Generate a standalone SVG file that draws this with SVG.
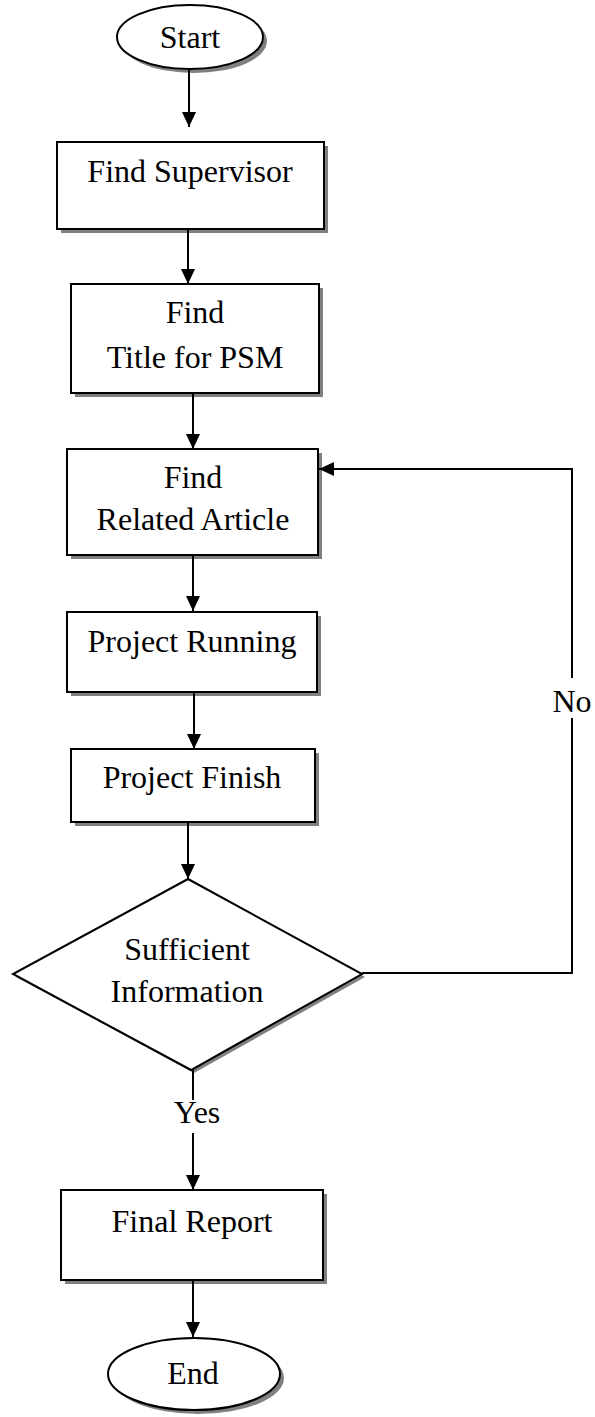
<svg xmlns="http://www.w3.org/2000/svg" width="595" height="1417" viewBox="0 0 595 1417">
<style>
.shape{fill:#fff;stroke:#000;stroke-width:2}
.shadow{fill:#808080;stroke:none}
.lbl{font-family:"Liberation Serif","Times New Roman",serif;font-size:32px;fill:#000;text-anchor:middle}
.conn{fill:none;stroke:#000;stroke-width:2}
</style>
<defs>
<marker id="arrow" markerUnits="userSpaceOnUse" markerWidth="16" markerHeight="14" refX="15" refY="7" orient="auto">
<path d="M0,0 L15,7 L0,14 z" fill="#000"/>
</marker>
</defs>
<rect width="595" height="1417" fill="#fff"/>
<g id="start">
<ellipse class="shadow" cx="194" cy="41" rx="73" ry="32"/>
<ellipse class="shape" cx="190" cy="37" rx="73" ry="32"/>
<text class="lbl" x="190" y="48">Start</text>
</g>
<g id="find-supervisor">
<rect class="shadow" x="61" y="146" width="267" height="87"/>
<rect class="shape" x="57" y="142" width="267" height="87"/>
<text class="lbl" x="190" y="182">Find Supervisor</text>
</g>
<g id="find-title">
<rect class="shadow" x="75" y="288" width="248" height="109"/>
<rect class="shape" x="71" y="284" width="248" height="109"/>
<text class="lbl" x="195" y="323">Find</text>
<text class="lbl" x="195" y="368">Title for PSM</text>
</g>
<g id="find-related">
<rect class="shadow" x="71" y="453" width="251" height="106"/>
<rect class="shape" x="67" y="449" width="251" height="106"/>
<text class="lbl" x="193" y="488">Find</text>
<text class="lbl" x="193" y="530">Related Article</text>
</g>
<g id="project-running">
<rect class="shadow" x="71" y="616" width="250" height="80"/>
<rect class="shape" x="67" y="612" width="250" height="80"/>
<text class="lbl" x="192" y="652">Project Running</text>
</g>
<g id="project-finish">
<rect class="shadow" x="75" y="753" width="244" height="73"/>
<rect class="shape" x="71" y="749" width="244" height="73"/>
<text class="lbl" x="192" y="788">Project Finish</text>
</g>
<g id="decision">
<polygon class="shadow" points="191,882 365,977 194,1073 16,977"/>
<polygon class="shape" points="188,879 362,974 191,1070 13,974"/>
<text class="lbl" x="187" y="960">Sufficient</text>
<text class="lbl" x="187" y="1002">Information</text>
</g>
<g id="final-report">
<rect class="shadow" x="65" y="1194" width="262" height="90"/>
<rect class="shape" x="61" y="1190" width="262" height="90"/>
<text class="lbl" x="192" y="1232">Final Report</text>
</g>
<g id="end">
<ellipse class="shadow" cx="198" cy="1378" rx="86" ry="36"/>
<ellipse class="shape" cx="194" cy="1374" rx="86" ry="36"/>
<text class="lbl" x="193" y="1384">End</text>
</g>
<g id="connectors">
<path class="conn" d="M189,69 V127" marker-end="url(#arrow)"/>
<path class="conn" d="M188,229 V284" marker-end="url(#arrow)"/>
<path class="conn" d="M193,393 V449" marker-end="url(#arrow)"/>
<path class="conn" d="M193,555 V611" marker-end="url(#arrow)"/>
<path class="conn" d="M194,692 V749" marker-end="url(#arrow)"/>
<path class="conn" d="M188,822 V879" marker-end="url(#arrow)"/>
<path class="conn" d="M193,1070 V1100"/>
<path class="conn" d="M193,1133 V1190" marker-end="url(#arrow)"/>
<path class="conn" d="M193,1280 V1337" marker-end="url(#arrow)"/>
<path class="conn" d="M362,973 H572 V718"/>
<path class="conn" d="M572,678 V469 H319" marker-end="url(#arrow)"/>
<text class="lbl" x="197" y="1123">Yes</text>
<text class="lbl" x="572" y="712">No</text>
</g>
</svg>
